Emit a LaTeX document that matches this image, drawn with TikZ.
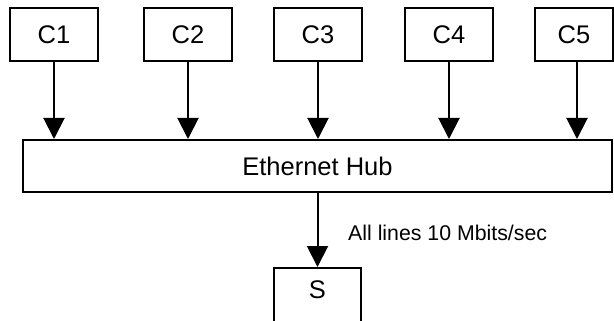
\documentclass[tikz,border=0pt]{standalone}
\usepackage{fontspec}
\setmainfont{Liberation Sans}
\usetikzlibrary{arrows.meta,calc}

\tikzset{
  unit/.style={draw, line width=2pt, minimum width=88pt, minimum height=53pt,
    inner sep=0pt, font=\fontsize{25.5}{30}\selectfont},
  hubbox/.style={draw, line width=2pt, minimum width=589pt, minimum height=52pt,
    inner sep=0pt, font=\fontsize{25.5}{30}\selectfont},
  link/.style={line width=2pt, -{Triangle[length=21pt,width=21pt]}},
  note/.style={inner sep=0pt, font=\fontsize{21.3}{25}\selectfont}
}

\begin{document}
\begin{tikzpicture}[x=1pt, y=-1pt]
  \clip (0,0) rectangle (614,321);

  % client machines
  \node[unit] (C1) at (54,34.5)  {C1};
  \node[unit] (C2) at (188,34.5) {C2};
  \node[unit] (C3) at (318,34.5) {C3};
  \node[unit] (C4) at (449,34.5) {C4};
  \node[unit, minimum width=78pt] (C5) at (574,34.5) {C5};

  % hub
  \node[hubbox] (hub) at (317.5,166) {\raisebox{-3pt}{Ethernet Hub}};

  % server box, open at the bottom edge
  \node[draw, line width=2pt, minimum width=87pt, minimum height=80pt,
        anchor=north, inner sep=0pt] (S) at (317.5,267) {};
  \node[font=\fontsize{25.5}{30}\selectfont, inner sep=0pt] (Stext) at (317.5,290) {S};

  % links into the hub
  \draw[link] (C1.south) -- (C1.south |- hub.north);
  \draw[link] (C2.south) -- (C2.south |- hub.north);
  \draw[link] (C3.south) -- (C3.south |- hub.north);
  \draw[link] (C4.south) -- (C4.south |- hub.north);
  \draw[link] ([xshift=3pt]C5.south) -- ([xshift=3pt]C5.south |- hub.north);

  % link from the hub to the server
  \draw[link] (S.north |- hub.south) -- (S.north);

  \node[note, anchor=base west] (rate) at (348,240) {All lines 10 Mbits/sec};
\end{tikzpicture}
\end{document}
